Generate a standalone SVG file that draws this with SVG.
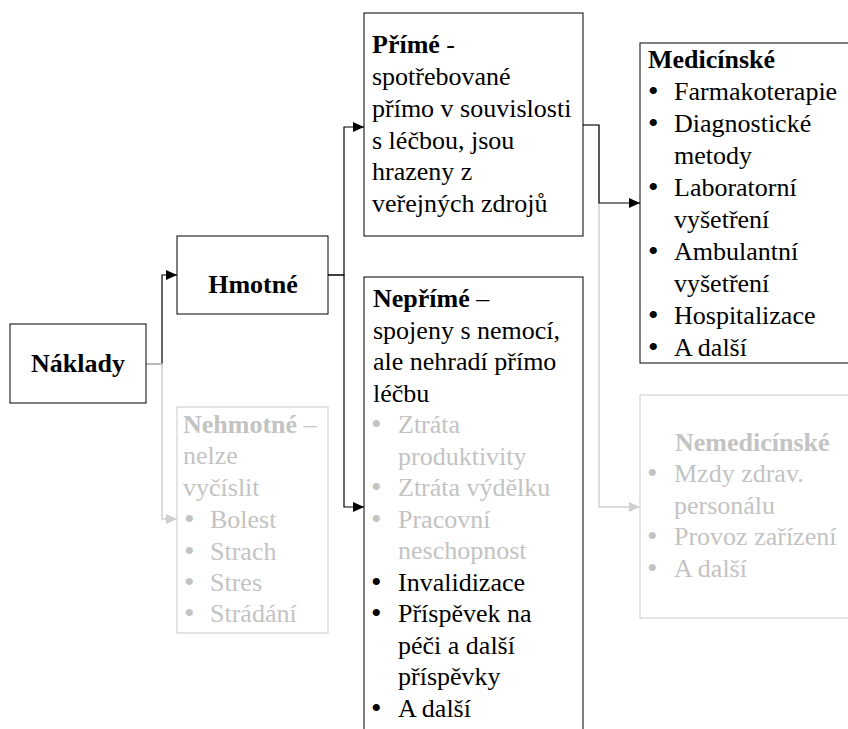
<svg xmlns="http://www.w3.org/2000/svg" width="848" height="729" viewBox="0 0 848 729" font-family="Liberation Serif, serif" font-size="26">
  <style>
    text { fill: #000; }
    .b { font-weight: bold; }
    .dot { font-size: 30px; }
    .muted, .muted text { fill: #c3c3c3; }
    .box { fill: #fff; stroke: #000; stroke-width: 1; }
    .box-muted { fill: #fff; stroke: #d2d2d2; stroke-width: 1.2; }
    .link { fill: none; stroke: #000; stroke-width: 1.2; }
    .link-muted { fill: none; stroke: #cfcfcf; stroke-width: 1.4; }
  </style>
  <defs>
    <marker id="arrow" viewBox="0 0 11 10" refX="11" refY="5" markerWidth="11" markerHeight="10" markerUnits="userSpaceOnUse" orient="auto">
      <path d="M0,0 L11,5 L0,10 Z" fill="#000"/>
    </marker>
    <marker id="arrow-muted" viewBox="0 0 11 10" refX="11" refY="5" markerWidth="11" markerHeight="10" markerUnits="userSpaceOnUse" orient="auto">
      <path d="M0,0 L11,5 L0,10 Z" fill="#cfcfcf"/>
    </marker>
  </defs>

  <rect width="848" height="729" fill="#fff"/>

  <!-- connectors -->
  <g id="connectors">
    <path class="link" d="M146,364 H162 V275 H177" marker-end="url(#arrow)"/>
    <path class="link-muted" d="M146,364 H162 V519 H177" marker-end="url(#arrow-muted)"/>
    <path class="link" d="M328,275 H344 V127 H364" marker-end="url(#arrow)"/>
    <path class="link" d="M328,275 H344 V507 H364" marker-end="url(#arrow)"/>
    <path class="link-muted" d="M583,125 H599 V507 H640" marker-end="url(#arrow-muted)"/>
    <path class="link" d="M583,125 H599 V203 H640" marker-end="url(#arrow)"/>
  </g>

  <!-- Náklady -->
  <g id="naklady">
    <rect class="box" x="10" y="324" width="136" height="79"/>
    <text class="b" x="78" y="372" text-anchor="middle">Náklady</text>
  </g>

  <!-- Hmotné -->
  <g id="hmotne">
    <rect class="box" x="177" y="236" width="151" height="78"/>
    <text class="b" x="253" y="293" text-anchor="middle">Hmotné</text>
  </g>

  <!-- Nehmotné -->
  <g id="nehmotne" class="muted">
    <rect class="box-muted" x="177" y="407" width="151" height="226"/>
    <text x="183" y="433"><tspan class="b">Nehmotné</tspan> –</text>
    <text x="183" y="464">nelze</text>
    <text x="183" y="496">vyčíslit</text>
    <text class="dot" x="184" y="529">•</text><text x="210" y="528">Bolest</text>
    <text class="dot" x="184" y="561">•</text><text x="210" y="560">Strach</text>
    <text class="dot" x="184" y="592">•</text><text x="210" y="591">Stres</text>
    <text class="dot" x="184" y="623">•</text><text x="210" y="622">Strádání</text>
  </g>

  <!-- Přímé -->
  <g id="prime">
    <rect class="box" x="364" y="13" width="219" height="223"/>
    <text x="372" y="53"><tspan class="b">Přímé</tspan> -</text>
    <text x="372" y="85">spotřebované</text>
    <text x="372" y="117">přímo v souvislosti</text>
    <text x="372" y="149">s léčbou, jsou</text>
    <text x="372" y="180">hrazeny z</text>
    <text x="372" y="212">veřejných zdrojů</text>
  </g>

  <!-- Nepřímé -->
  <g id="neprime">
    <rect class="box" x="364" y="277" width="219" height="470"/>
    <text x="373" y="307"><tspan class="b">Nepřímé</tspan> –</text>
    <text x="373" y="339">spojeny s nemocí,</text>
    <text x="373" y="370">ale nehradí přímo</text>
    <text x="373" y="402">léčbu</text>
    <g class="muted">
      <text class="dot" x="371" y="434">•</text><text x="398" y="433">Ztráta</text>
      <text x="398" y="465">produktivity</text>
      <text class="dot" x="371" y="497">•</text><text x="398" y="496">Ztráta výdělku</text>
      <text class="dot" x="371" y="529">•</text><text x="398" y="528">Pracovní</text>
      <text x="398" y="559">neschopnost</text>
    </g>
    <text class="dot" x="371" y="592">•</text><text x="398" y="591">Invalidizace</text>
    <text class="dot" x="371" y="623">•</text><text x="398" y="622">Příspěvek na</text>
    <text x="398" y="654">péči a další</text>
    <text x="398" y="685">příspěvky</text>
    <text class="dot" x="371" y="718">•</text><text x="398" y="717">A další</text>
  </g>

  <!-- Medicínské -->
  <g id="medicinske">
    <rect class="box" x="640" y="43" width="220" height="320"/>
    <text class="b" x="648" y="68">Medicínské</text>
    <text class="dot" x="648" y="101">•</text><text x="674" y="100">Farmakoterapie</text>
    <text class="dot" x="648" y="133">•</text><text x="674" y="132">Diagnostické</text>
    <text x="674" y="164">metody</text>
    <text class="dot" x="648" y="197">•</text><text x="674" y="196">Laboratorní</text>
    <text x="674" y="228">vyšetření</text>
    <text class="dot" x="648" y="261">•</text><text x="674" y="260">Ambulantní</text>
    <text x="674" y="292">vyšetření</text>
    <text class="dot" x="648" y="325">•</text><text x="674" y="324">Hospitalizace</text>
    <text class="dot" x="648" y="357">•</text><text x="674" y="356">A další</text>
  </g>

  <!-- Nemedicínské -->
  <g id="nemedicinske" class="muted">
    <rect class="box-muted" x="640" y="395" width="220" height="223"/>
    <text class="b" x="675" y="451">Nemedicínské</text>
    <text class="dot" x="647" y="483">•</text><text x="674" y="482">Mzdy zdrav.</text>
    <text x="674" y="514">personálu</text>
    <text class="dot" x="647" y="546">•</text><text x="674" y="545">Provoz zařízení</text>
    <text class="dot" x="647" y="578">•</text><text x="674" y="577">A další</text>
  </g>
</svg>
